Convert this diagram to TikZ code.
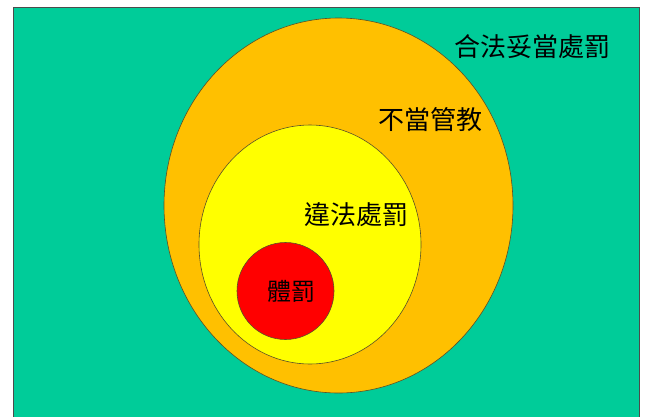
\documentclass[tikz,border=0pt]{standalone}
\usepackage{fontspec}
\newfontfamily\cjk{Noto Sans CJK TC}
\definecolor{bggreen}{RGB}{0,204,153}
\definecolor{orng}{RGB}{255,192,0}
\definecolor{yel}{RGB}{255,255,0}
\definecolor{rd}{RGB}{255,0,0}
\definecolor{edge}{RGB}{90,80,40}
\begin{document}
\begin{tikzpicture}[x=1pt,y=-1pt,
  ring/.style={draw=edge,line width=0.6pt},
  lbl/.style={font=\cjk\fontsize{26}{30}\selectfont, text=black, inner sep=0pt}]
\useasboundingbox (0,0) rectangle (646,416);
\fill[white] (0,0) rectangle (646,416);
\draw[fill=bggreen,draw=black!70,line width=0.8pt] (13,7) rectangle (639,417);
\path[ring,fill=orng] (338.5,205.5) ellipse [x radius=174.5, y radius=187.5];
\path[ring,fill=yel] (310,244.5) ellipse [x radius=111, y radius=119.5];
\path[ring,fill=rd] (285.5,291) circle [radius=48.5];
\node[lbl] (a) at (532,47) {合法妥當處罰};
\node[lbl] (b) at (430,120) {不當管教};
\node[lbl] (c) at (356,215) {違法處罰};
\node[lbl,font=\cjk\fontsize{24}{28}\selectfont] (d) at (291,291) {體罰};
\end{tikzpicture}
\end{document}
